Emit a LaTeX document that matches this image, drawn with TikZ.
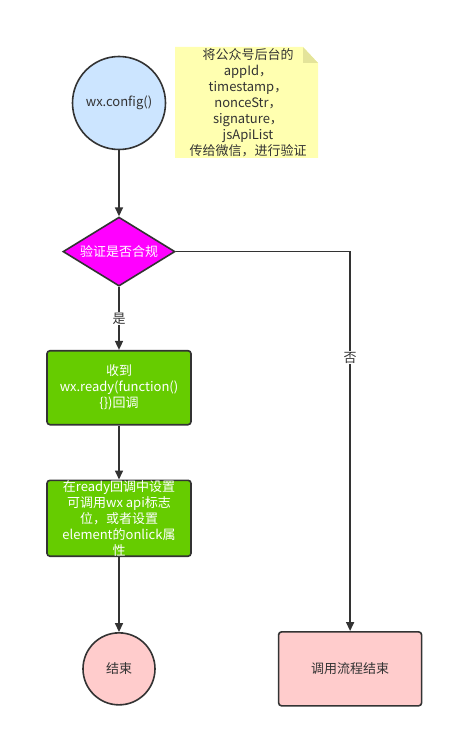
\documentclass[tikz,border=0pt]{standalone}
\usepackage{fontspec}
\setmainfont{Noto Sans CJK SC}
\usepackage{tikz}
\usetikzlibrary{positioning,shapes.geometric,arrows.meta}
\definecolor{ink}{HTML}{333333}
\definecolor{skyblue}{HTML}{CCE5FF}
\definecolor{notey}{HTML}{FFFFB0}
\definecolor{notefold}{HTML}{E4E49A}
\definecolor{magent}{HTML}{FF00FF}
\definecolor{leaf}{HTML}{66CC00}
\definecolor{rosy}{HTML}{FFCCCC}

\begin{document}
\begin{tikzpicture}[x=1pt,y=1pt, every node/.style={font=\fontsize{13}{16}\selectfont}]
\tikzstyle{flow}=[draw=ink,line width=1.6pt,-{Triangle[length=9pt,width=8pt]}]
\tikzstyle{rnd}=[circle,draw=ink,line width=1.6pt,text=ink]
\tikzstyle{greenbox}=[draw=ink,line width=1.6pt,rounded corners=3pt,fill=leaf,text=white,minimum width=144pt,minimum height=74pt,align=center,inner sep=0pt]
\useasboundingbox (0,0) rectangle (451,-738);
\fill[notey] (175,-47) -- (303,-47) -- (318,-63) -- (318,-158) -- (175,-158) -- cycle;
\fill[notefold] (303,-47) -- (318,-63) -- (303,-63) -- cycle;
\node[rnd,fill=skyblue,minimum size=93pt] (cfg) at (119,-103) {wx.config()};
\node[right=10pt of cfg,minimum width=143pt,minimum height=111pt,align=center,inner sep=0pt,text=ink] (note) {将公众号后台的\\appId，\\timestamp，\\nonceStr，\\signature，\\jsApiList\\传给微信，进行验证};
\node[below=66pt of cfg,diamond,shape aspect=1.62,draw=ink,line width=1.6pt,fill=magent,text=white,minimum width=112pt,minimum height=69pt,inner sep=0pt] (check) {验证是否合规};
\node[greenbox,below=63pt of check] (ready) {收到\\wx.ready(function()\\\{\})回调};
\node[greenbox,below=54pt of ready] (flag) {在ready回调中设置\\可调用wx api标志\\位，或者设置\\element的onlick属\\性};
\node[rnd,fill=rosy,minimum size=72pt,below=75pt of flag] (done) {结束};
\node[right=122pt of done,draw=ink,line width=1.6pt,rounded corners=3pt,fill=rosy,text=ink,minimum width=143pt,minimum height=74pt] (stop) {调用流程结束};
\draw[flow] (cfg)--(check);
\draw[flow] (check)--node[fill=white,inner sep=1pt,text=ink]{是}(ready);
\draw[flow] (ready)--(flag);
\draw[flow] (flag)--(done);
\draw[flow] (check.east) -| node[pos=0.64,fill=white,inner sep=1pt,text=ink]{否} (stop.north);
\end{tikzpicture}
\end{document}
